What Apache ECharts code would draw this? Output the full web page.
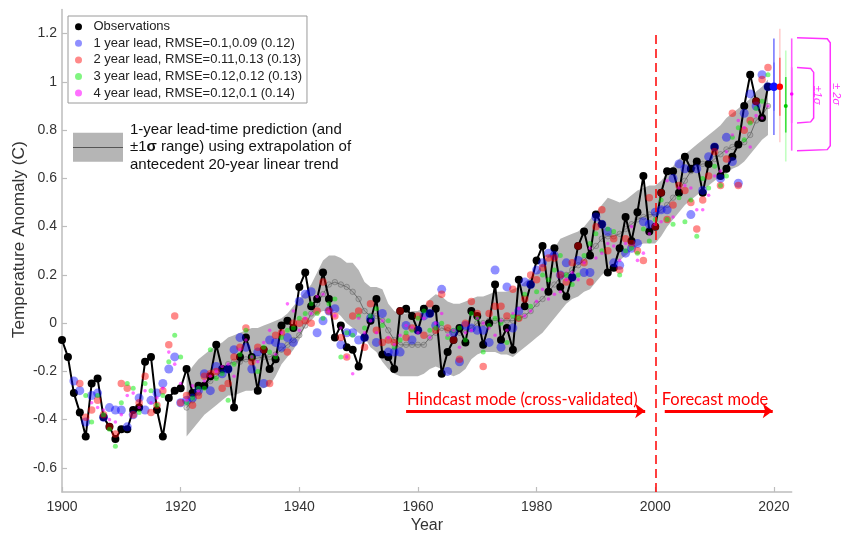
<!DOCTYPE html>
<html><head><meta charset="utf-8">
<script src="https://cdn.jsdelivr.net/npm/echarts@6/dist/echarts.min.js"></script>
<style>html,body{margin:0;padding:0;background:#fff}#c{width:841px;height:539px}</style>
</head><body><div id="c"></div>
<script>
// ---------------- data ----------------
const obsStartYear = 1900;
const obsValues = [
 -0.07,-0.14,-0.29,-0.37,-0.47,-0.25,-0.23,-0.39,-0.43,-0.48,
 -0.44,-0.44,-0.36,-0.35,-0.16,-0.14,-0.36,-0.47,-0.31,-0.28,
 -0.27,-0.19,-0.29,-0.26,-0.26,-0.22,-0.09,-0.19,-0.19,-0.35,
 -0.14,-0.06,-0.14,-0.28,-0.11,-0.19,-0.15,-0.01,0.01,-0.02,
 0.15,0.21,0.07,0.10,0.21,0.10,-0.06,-0.01,-0.10,-0.11,
 -0.18,-0.06,0.01,0.10,-0.13,-0.14,-0.19,0.05,0.06,0.03,
 -0.03,0.06,0.04,0.06,-0.21,-0.12,-0.07,-0.02,-0.08,0.05,
 0.03,-0.09,0.00,0.16,-0.07,-0.02,-0.11,0.18,0.07,0.16,
 0.26,0.32,0.13,0.31,0.15,0.11,0.19,0.32,0.38,0.28,
 0.45,0.41,0.21,0.23,0.31,0.44,0.34,0.46,0.61,0.38,
 0.40,0.54,0.63,0.63,0.54,0.69,0.64,0.67,0.54,0.66,
 0.73,0.61,0.64,0.69,0.74,0.90,1.03,0.92,0.85,0.98
];

const trendStartYear = 1921;
const trendCenter = [
 -0.35,-0.32,-0.29,-0.26,-0.24,-0.22,-0.20,-0.17,-0.16,-0.16,
 -0.15,-0.15,-0.145,-0.14,-0.14,-0.13,-0.11,-0.09,-0.07,-0.05,
 -0.01,0.04,0.08,0.12,0.16,0.17,0.16,0.15,0.13,0.10,
 0.05,0.03,0.03,0.01,-0.03,-0.07,-0.09,-0.09,-0.09,-0.09,
 -0.09,-0.06,-0.04,-0.02,-0.03,-0.04,-0.04,-0.03,-0.02,0.00,
 0.00,0.01,0.01,0.01,0.01,0.01,0.02,0.03,0.05,0.08,
 0.10,0.13,0.16,0.19,0.20,0.22,0.24,0.26,0.29,0.32,
 0.35,0.36,0.36,0.37,0.39,0.41,0.43,0.44,0.45,0.45,
 0.47,0.49,0.52,0.55,0.59,0.63,0.65,0.66,0.66,0.68,
 0.70,0.72,0.73,0.74,0.75,0.78,0.84,0.86,0.90
];
const trendUpper = [
 -0.22,-0.18,-0.15,-0.13,-0.11,-0.09,-0.08,-0.06,-0.05,-0.04,
 -0.03,-0.02,-0.02,-0.01,0.00,0.01,0.02,0.04,0.07,0.10,
 0.13,0.16,0.21,0.26,0.28,0.28,0.27,0.25,0.25,0.22,
 0.17,0.15,0.15,0.14,0.08,0.05,0.04,0.04,0.05,0.05,
 0.07,0.10,0.12,0.11,0.09,0.08,0.08,0.09,0.10,0.11,
 0.11,0.12,0.13,0.13,0.13,0.14,0.15,0.17,0.19,0.21,
 0.25,0.28,0.31,0.35,0.36,0.37,0.38,0.40,0.43,0.46,
 0.49,0.52,0.51,0.50,0.51,0.53,0.55,0.56,0.57,0.57,
 0.59,0.62,0.65,0.68,0.70,0.72,0.74,0.76,0.78,0.80,
 0.82,0.85,0.87,0.89,0.91,0.93,0.96,0.98,1.01
];
const trendLower = [
 -0.47,-0.44,-0.41,-0.38,-0.36,-0.34,-0.32,-0.30,-0.30,-0.29,
 -0.28,-0.28,-0.27,-0.27,-0.26,-0.22,-0.17,-0.14,-0.11,-0.07,
 -0.01,0.01,0.04,0.05,0.05,0.05,0.03,0.00,-0.02,-0.04,
 -0.06,-0.10,-0.12,-0.16,-0.19,-0.21,-0.22,-0.22,-0.22,-0.22,
 -0.21,-0.19,-0.18,-0.19,-0.21,-0.22,-0.21,-0.19,-0.15,-0.13,
 -0.12,-0.12,-0.12,-0.13,-0.13,-0.14,-0.12,-0.10,-0.08,-0.06,
 -0.04,-0.01,0.02,0.05,0.08,0.10,0.11,0.13,0.14,0.17,
 0.20,0.22,0.24,0.26,0.28,0.30,0.32,0.33,0.33,0.33,
 0.36,0.40,0.43,0.46,0.49,0.51,0.53,0.55,0.57,0.59,
 0.61,0.62,0.64,0.65,0.67,0.70,0.73,0.76,0.78
];

const lead1StartYear = 1902;
const lead1Values = [
 -0.24,-0.28,-0.41,-0.30,-0.29,-0.39,-0.35,-0.36,-0.36,
 -0.43,-0.38,-0.31,-0.36,-0.32,-0.29,-0.25,-0.19,-0.14,-0.33,
 -0.32,-0.31,-0.28,-0.21,-0.28,-0.18,-0.21,-0.19,-0.11,-0.06,
 -0.10,-0.19,-0.12,-0.25,-0.07,-0.08,-0.10,-0.06,-0.08,0.09,
 0.12,0.13,-0.04,0.01,0.05,0.06,-0.09,-0.04,-0.04,-0.07,
 -0.06,0.02,-0.08,0.04,-0.12,-0.12,-0.12,-0.01,-0.07,-0.03,
 0.03,0.04,-0.01,0.14,-0.20,-0.04,-0.16,-0.01,-0.02,-0.03,
 -0.03,-0.08,0.22,-0.10,0.15,-0.02,0.05,0.17,0.16,0.22,
 0.25,0.29,0.28,0.20,0.25,0.19,0.26,0.21,0.21,0.44,
 0.41,0.38,0.25,0.24,0.29,0.31,0.33,0.42,0.41,0.46,
 0.47,0.47,0.60,0.66,0.64,0.45,0.64,0.55,0.69,0.73,
 0.60,0.77,0.67,0.58,0.87,0.95,0.90,1.03,0.98
];
const lead2StartYear = 1903;
const lead2Values = [
 -0.25,-0.39,-0.36,-0.32,-0.38,-0.43,-0.46,-0.25,
 -0.27,-0.38,-0.33,-0.22,-0.37,-0.34,-0.28,-0.09,0.03,-0.33,
 -0.30,-0.34,-0.30,-0.22,-0.21,-0.20,-0.27,-0.25,-0.14,-0.10,
 -0.02,-0.16,-0.10,-0.11,-0.25,-0.05,-0.04,-0.12,0.00,0.00,
 0.01,0.00,0.05,0.17,0.05,0.03,-0.06,-0.14,0.03,0.05,
 -0.10,0.08,-0.03,-0.08,-0.07,-0.08,0.05,-0.06,-0.02,0.03,
 -0.05,0.08,-0.03,0.12,-0.02,-0.07,-0.15,0.00,0.09,0.04,
 -0.18,0.04,0.07,0.07,0.03,0.14,0.02,0.10,0.20,0.18,
 0.23,0.27,0.27,0.20,0.17,0.25,0.32,0.25,0.17,0.40,
 0.47,0.30,0.35,0.22,0.35,0.33,0.30,0.26,0.52,0.40,
 0.54,0.43,0.49,0.57,0.55,0.50,0.39,0.51,0.61,0.71,
 0.57,0.68,0.87,0.57,0.80,0.84,0.92,1.01,1.06
];
const lead3StartYear = 1904;
const lead3Values = [
 -0.30,-0.41,-0.30,-0.38,-0.44,-0.51,-0.33,
 -0.25,-0.27,-0.37,-0.25,-0.28,-0.34,-0.30,-0.16,-0.05,-0.14,
 -0.33,-0.31,-0.27,-0.27,-0.11,-0.23,-0.21,-0.32,-0.17,-0.13,
 -0.03,-0.14,-0.20,-0.10,-0.12,-0.14,-0.06,-0.03,-0.02,0.02,
 0.04,0.08,0.04,0.02,0.08,0.10,-0.14,-0.04,-0.05,0.03,
 -0.02,0.03,0.06,-0.01,0.01,-0.10,-0.07,-0.04,-0.03,0.02,
 0.05,-0.03,-0.02,0.00,-0.06,-0.03,-0.02,-0.07,0.04,0.02,
 -0.12,-0.01,0.02,0.00,-0.08,0.03,0.02,0.12,0.07,0.13,
 0.20,0.18,0.22,0.28,0.20,0.16,0.20,0.28,0.33,0.37,
 0.30,0.39,0.38,0.20,0.30,0.31,0.29,0.39,0.34,0.43,
 0.51,0.43,0.41,0.52,0.42,0.51,0.36,0.60,0.56,0.65,
 0.57,0.61,0.77,0.81,0.76,0.83,0.89,0.92,1.03
];
const lead4StartYear = 1905;
const lead4Values = [
 -0.33,-0.35,-0.36,-0.40,-0.41,-0.38,
 -0.30,-0.29,-0.35,-0.28,-0.33,-0.31,-0.27,-0.12,-0.17,-0.25,
 -0.32,-0.26,-0.28,-0.24,-0.22,-0.20,-0.18,-0.17,-0.22,-0.11,
 -0.07,-0.14,-0.16,-0.08,-0.03,-0.13,-0.04,0.08,0.05,-0.03,
 0.02,0.04,0.11,0.12,0.05,0.03,-0.02,-0.14,-0.21,0.02,
 -0.04,0.01,-0.04,0.01,-0.06,-0.09,-0.05,-0.01,-0.02,-0.04,
 0.02,-0.06,0.00,0.04,-0.05,-0.03,-0.10,-0.04,-0.03,0.02,
 0.00,-0.02,-0.05,0.01,-0.03,0.04,0.06,0.03,0.05,0.09,
 0.14,0.10,0.12,0.13,0.18,0.21,0.18,0.25,0.31,0.27,
 0.29,0.33,0.32,0.26,0.33,0.40,0.26,0.29,0.37,0.41,
 0.42,0.59,0.44,0.56,0.57,0.56,0.47,0.47,0.53,0.61,
 0.63,0.71,0.78,0.84,0.81,0.73,0.86,0.85,0.90
];

const forecastYears = [2020, 2021, 2022, 2023];
const forecastValues = [0.98, 0.98, 0.90, 0.95];
const forecastSigma1Low = [0.88, 0.86, 0.79, 0.83];
const forecastSigma1High = [1.08, 1.10, 1.02, 1.06];
const forecastSigma2Low = [0.78, 0.75, 0.67, 0.715];
const forecastSigma2High = [1.18, 1.22, 1.13, 1.18];

// magenta sigma brackets: [xStart, xEnd, low, high]
const bracketRows = [[2023.9, 2029.5, 0.715, 1.183], [2023.9, 2026.7, 0.83, 1.06]];
const bracketLabels = ['± 2σ', '±1σ'];
const bracketLabelYears = [2030.4, 2027.35];

const xTicks = [1900, 1920, 1940, 1960, 1980, 2000, 2020];
const yTicks = [-0.6, -0.4, -0.2, 0, 0.2, 0.4, 0.6, 0.8, 1, 1.2];

const obsName = 'Observations';
const leadNames = ['1 year lead, RMSE=0.1,0.09 (0.12)', '2 year lead, RMSE=0.11,0.13 (0.13)',
                   '3 year lead, RMSE=0.12,0.12 (0.13)', '4 year lead, RMSE=0.12,0.1 (0.14)'];
const bandName = '1-year lead-time prediction (and\n±1σ range) using extrapolation of\nantecedent 20-year linear trend';

// ---------------- chart ----------------
function pairs(start, vals) { return vals.map((v, i) => [start + i, v]); }
const FONT = '"Liberation Sans", Helvetica, Arial, sans-serif';
const AXIS_GRAY = '#bdbdbd';

const chart = echarts.init(document.getElementById('c'), null, {renderer: 'canvas'});

const bandData = trendCenter.map((v, i) => [trendStartYear + i, trendLower[i], trendUpper[i]]);
const fcData = forecastYears.map((y, i) => [y, forecastValues[i], forecastSigma1Low[i], forecastSigma1High[i], forecastSigma2Low[i], forecastSigma2High[i]]);
const fcStyle = [
  {light: '#7a7aff', dark: '#6a6aff', dot: '#1010ff', r: 4.3},
  {light: '#ffd0d0', dark: '#ff6f6f', dot: '#ff0000', r: 3.2},
  {light: '#c2ffc2', dark: '#3ee03e', dot: '#00c800', r: 2.0},
  {light: '#ff5cff', dark: '#ff5cff', dot: '#ff00ff', r: 1.8}
];
const ARROW_FONT = 'Lato, "Open Sans", sans-serif';

const option = {
  animation: false,
  backgroundColor: '#fff',
  grid: {left: 62, right: 49.3, top: 9.5, bottom: 42},
  xAxis: {
    type: 'value', min: 1900, max: 2023,
    axisLine: {onZero: false, lineStyle: {color: AXIS_GRAY, width: 1.5}},
    axisTick: {inside: true, length: 5, customValues: xTicks, lineStyle: {color: AXIS_GRAY, width: 1.2}},
    axisLabel: {customValues: xTicks, color: '#333', fontSize: 14, fontFamily: FONT, margin: 8,
      formatter: v => String(Math.round(v))},
    splitLine: {show: false},
    name: 'Year', nameLocation: 'middle', nameGap: 26, nameMoveOverlap: false,
    nameTextStyle: {fontSize: 16, color: '#333', fontFamily: FONT}
  },
  yAxis: {
    type: 'value', min: -0.7, max: 1.3,
    axisLine: {show: true, onZero: false, lineStyle: {color: AXIS_GRAY, width: 1.5}},
    axisTick: {show: true, inside: true, length: 5, customValues: yTicks, lineStyle: {color: AXIS_GRAY, width: 1.2}},
    axisLabel: {customValues: yTicks, color: '#333', fontSize: 14, fontFamily: FONT, margin: 5,
      formatter: v => String(Math.round(v * 10) / 10)},
    splitLine: {show: false},
    name: 'Temperature Anomaly (C)', nameLocation: 'middle', nameGap: 34, nameMoveOverlap: false,
    nameTextStyle: {fontSize: 17.2, color: '#333', fontFamily: FONT, padding: [0, 0, 0, 22]}
  },
  legend: [
    {
      selectedMode: false, orient: 'vertical', left: 68, top: 16,
      padding: [4.2, 5, 3.4, 7], itemGap: 3.6, itemWidth: 20, itemHeight: 7,
      borderColor: '#9a9a9a', borderWidth: 1, backgroundColor: '#fff',
      textStyle: {fontSize: 13, color: '#222', fontFamily: FONT},
      data: [obsName].concat(leadNames).map(n => ({name: n, icon: 'circle'}))
    },
    {
      selectedMode: false, orient: 'vertical', left: 73, top: 121, padding: 0,
      itemWidth: 50, itemHeight: 29,
      textStyle: {fontSize: 15, lineHeight: 17.5, color: '#111', fontFamily: FONT, padding: [0, 0, 0, 2],
        rich: {b: {fontSize: 15, lineHeight: 17.5, fontWeight: 'bold', color: '#111', fontFamily: FONT}}},
      formatter: n => n.replace('σ', '{b|σ}'),
      data: [{name: bandName, icon: 'rect'}]
    }
  ],
  graphic: [
    {type: 'line', z: 100, silent: true, shape: {x1: 73, y1: 147.5, x2: 123, y2: 147.5}, style: {stroke: '#555', lineWidth: 1}}
  ],
  series: [
    {
      name: bandName, type: 'custom', z: 1, silent: true,
      itemStyle: {color: '#b5b5b5'},
      encode: {x: 0, y: [1, 2]},
      data: bandData,
      renderItem: function (params, api) {
        if (params.dataIndex !== 0) return null;
        const pts = [];
        for (let i = 0; i < trendUpper.length; i++) pts.push(api.coord([trendStartYear + i, trendUpper[i]]));
        for (let i = trendLower.length - 1; i >= 0; i--) pts.push(api.coord([trendStartYear + i, trendLower[i]]));
        return {type: 'polygon', shape: {points: pts}, style: {fill: '#b5b5b5'}};
      }
    },
    {
      name: 'trend', type: 'line', z: 2, silent: true,
      data: pairs(trendStartYear, trendCenter),
      lineStyle: {color: '#555', width: 0.8},
      symbol: 'circle', symbolSize: 5.5, showAllSymbol: true,
      itemStyle: {color: 'rgba(150,150,150,0.35)', borderColor: 'rgba(80,80,80,0.55)', borderWidth: 0.7}
    },
    {
      name: obsName, type: 'line', z: 3, silent: true,
      data: pairs(obsStartYear, obsValues),
      lineStyle: {color: '#000', width: 2},
      symbol: 'circle', symbolSize: 8, showAllSymbol: true,
      itemStyle: {color: '#000'},
      markLine: {
        silent: true, symbol: 'none', animation: false, label: {show: false},
        lineStyle: {color: '#ff0000', type: [9, 5], width: 1.5},
        data: [[{coord: [2000, -0.7]}, {coord: [2000, 1.208]}]]
      }
    },
    {name: leadNames[0], type: 'scatter', z: 4, silent: true, symbolSize: 9,
      itemStyle: {color: 'rgba(0,0,255,0.55)'}, data: pairs(lead1StartYear, lead1Values)},
    {name: leadNames[1], type: 'scatter', z: 4, silent: true, symbolSize: 7.5,
      itemStyle: {color: 'rgba(255,0,0,0.58)'}, data: pairs(lead2StartYear, lead2Values)},
    {name: leadNames[2], type: 'scatter', z: 4, silent: true, symbolSize: 5,
      itemStyle: {color: 'rgba(0,235,0,0.62)'}, data: pairs(lead3StartYear, lead3Values)},
    {name: leadNames[3], type: 'scatter', z: 4, silent: true, symbolSize: 3.6,
      itemStyle: {color: 'rgba(255,0,255,0.7)'}, data: pairs(lead4StartYear, lead4Values)},
    {
      name: 'forecast', type: 'custom', z: 5, silent: true, clip: false,
      data: fcData,
      renderItem: function (params, api) {
        const i = params.dataIndex, s = fcStyle[i];
        const x = api.value(0);
        const a = api.coord([x, api.value(5)]), b = api.coord([x, api.value(4)]);
        const c = api.coord([x, api.value(3)]), d = api.coord([x, api.value(2)]);
        const m = api.coord([x, api.value(1)]);
        return {type: 'group', children: [
          {type: 'line', shape: {x1: a[0], y1: a[1], x2: b[0], y2: b[1]}, style: {stroke: s.light, lineWidth: 1.6}},
          {type: 'line', shape: {x1: c[0], y1: c[1], x2: d[0], y2: d[1]}, style: {stroke: s.dark, lineWidth: 1.6}},
          {type: 'circle', shape: {cx: m[0], cy: m[1], r: s.r}, style: {fill: s.dot}}
        ]};
      },
      markLine: {
        silent: true, animation: false, symbol: ['none', 'arrow'], symbolSize: [11, 10],
        lineStyle: {color: '#ff0000', width: 3, type: 'solid'},
        label: {show: true, position: 'insideStartTop', distance: [1, 3], color: '#ff0000', fontSize: 16.5,
          fontFamily: ARROW_FONT, formatter: '{b}'},
        data: [
          [{coord: [1958.0, -0.364], name: 'Hindcast mode (cross-validated)'}, {coord: [1998.3, -0.364]}],
          [{coord: [2001.6, -0.364], name: 'Forecast mode',
            label: {show: true, position: 'insideStartTop', distance: [-3, 3], color: '#ff0000', fontSize: 16.5, fontFamily: ARROW_FONT, formatter: '{b}'}},
           {coord: [2019.8, -0.364]}]
        ]
      }
    },
    {
      name: 'sigma brackets', type: 'custom', z: 5, silent: true, clip: false,
      data: bracketRows,
      renderItem: function (params, api) {
        const i = params.dataIndex;
        const p0 = api.coord([api.value(0), api.value(3)]);
        const p1 = api.coord([api.value(1), api.value(3)]);
        const p2 = api.coord([api.value(1), api.value(2)]);
        const p3 = api.coord([api.value(0), api.value(2)]);
        const mid = api.coord([bracketLabelYears[i], (api.value(2) + api.value(3)) / 2]);
        return {type: 'group', children: [
          {type: 'polyline', shape: {points: [p0, [p1[0] - 3, p1[1] + 1], [p1[0], p1[1] + 5], [p2[0], p2[1] - 5], [p2[0] - 3, p2[1] - 1], p3]},
            style: {stroke: '#ff33ff', lineWidth: 1.5, fill: null}},
          {type: 'text', x: mid[0], y: mid[1], rotation: -Math.PI / 2,
            style: {text: bracketLabels[i], fill: '#ff33ff', font: 'italic 11px ' + FONT, align: 'center', verticalAlign: 'middle'}}
        ]};
      }
    }
  ]
};
chart.setOption(option);
</script>
</body></html>
